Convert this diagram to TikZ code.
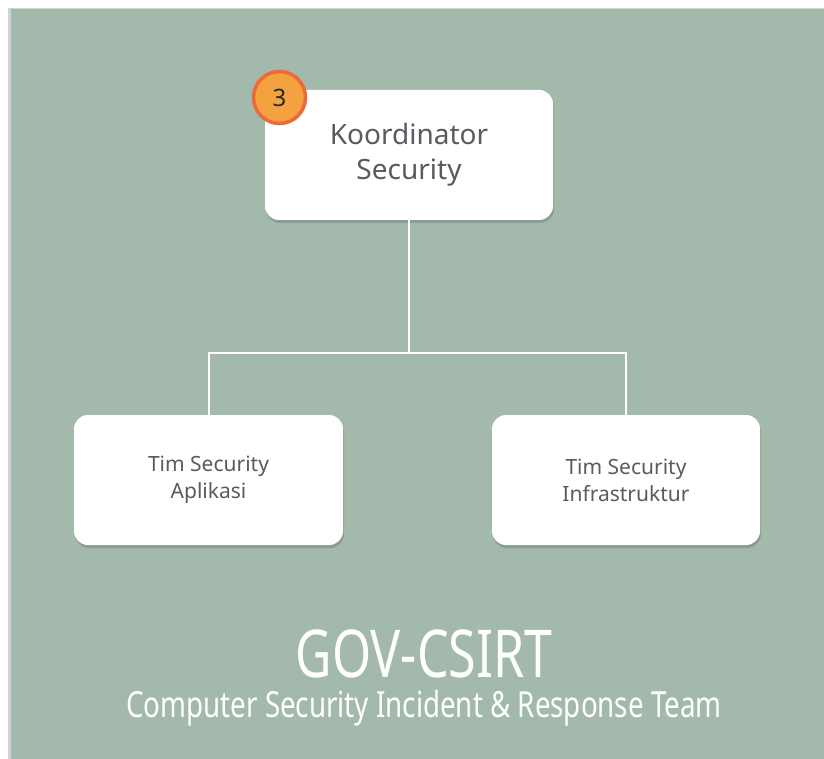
\documentclass[tikz,border=0pt]{standalone}
\usepackage{fontspec}
\setmainfont{Noto Sans}
\usetikzlibrary{shadows}
\definecolor{panel}{RGB}{163,185,172}
\definecolor{txtgray}{RGB}{88,92,96}
\definecolor{badgefill}{RGB}{244,161,64}
\definecolor{badgeline}{RGB}{236,106,58}
\tikzset{
  box/.style={rounded corners=14pt, fill=white, align=center, text=txtgray,
    drop shadow={shadow xshift=1pt, shadow yshift=-3pt, opacity=0.35, fill=black!60}},
  conn/.style={draw=white, line width=2pt},
  badge/.style={circle, fill=badgefill, draw=badgeline, line width=3.5pt, minimum size=52pt, inner sep=0pt,
    font=\fontsize{24}{24}\selectfont, text=black!85},
  caption/.style={text=white, inner sep=0pt, anchor=base},
}
\begin{document}
\begin{tikzpicture}[x=1pt,y=-1pt]
\useasboundingbox (0,0) rectangle (824,759);
\fill[white] (0,0) rectangle (824,759);
\fill[black!18] (8,8) rectangle (824,759);
\fill[panel] (11,9) rectangle (824,759);
\node[box, minimum width=288pt, minimum height=130pt, font=\fontsize{28}{35}\selectfont] (koor) at (409,155) {Koordinator\\Security};
\node[box, minimum width=269pt, minimum height=130pt, font=\fontsize{21}{27}\selectfont] (app) at (208.5,480) {Tim Security\\Aplikasi};
\node[box, minimum width=268pt, minimum height=130pt, font=\fontsize{21}{27}\selectfont] (inf) at (626,480) {Tim Security\\Infrastruktur};
\coordinate (j) at (409,353);
\draw[conn] (koor.south) -- (j);
\draw[conn] (app.north) |- (j) -| (inf.north);
\node[badge] (b3) at (279.5,97.5) {3};
\node[caption, text depth=0pt] (title) at (424,677) {\scalebox{0.76}[1]{\fontsize{66}{66}\selectfont GOV-CSIRT}};
\node[caption, text height=24pt] (sub) at (424,717) {\scalebox{0.77}[1]{\fontsize{36}{36}\selectfont Computer Security Incident \& Response Team}};
\end{tikzpicture}
\end{document}
